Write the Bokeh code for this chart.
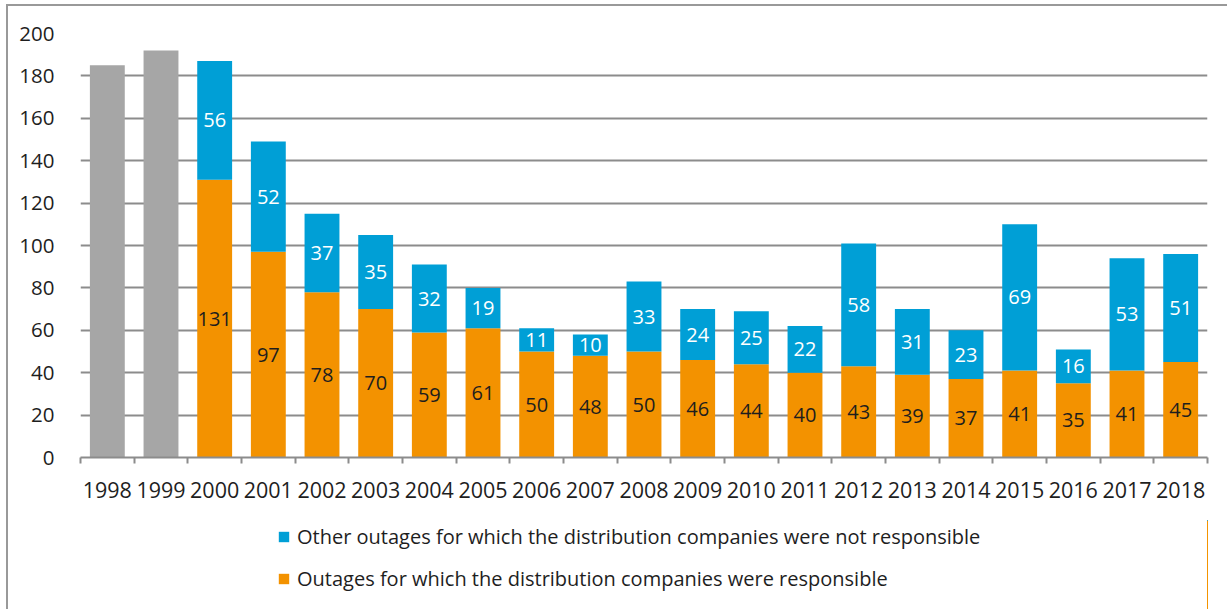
from bokeh.plotting import figure
from bokeh.layouts import column
from bokeh.models import (ColumnDataSource, Range1d, FixedTicker, LabelSet,
                          Legend, LegendItem)
from bokeh.core.properties import value
from bokeh.embed import file_html
from bokeh.resources import INLINE

# Outage minutes per year
years = ["1998", "1999", "2000", "2001", "2002", "2003", "2004", "2005", "2006",
         "2007", "2008", "2009", "2010", "2011", "2012", "2013", "2014", "2015",
         "2016", "2017", "2018"]
early_years = ["1998", "1999"]
early_totals = [185, 192]
split_years = years[2:]
responsible = [131, 97, 78, 70, 59, 61, 50, 48, 50, 46, 44, 40, 43, 39, 37, 41, 35, 41, 45]
not_responsible = [56, 52, 37, 35, 32, 19, 11, 10, 33, 24, 25, 22, 58, 31, 23, 69, 16, 53, 51]
y_ticks = [0, 20, 40, 60, 80, 100, 120, 140, 160, 180, 200]
legend_labels = ["Other outages for which the distribution companies were not responsible",
                 "Outages for which the distribution companies were responsible"]

BLUE = "#009fd6"
ORANGE = "#f39200"
GREY = "#a6a6a6"
GRID = "#8c8c8c"
TEXT = "#1e1e1e"
FONT = "Open Sans"

pos = {y: i + 0.5 for i, y in enumerate(years)}

early = ColumnDataSource(dict(x=[pos[y] for y in early_years], top=early_totals))
split = ColumnDataSource(dict(
    x=[pos[y] for y in split_years],
    resp=responsible,
    other=not_responsible,
    resp_mid=[r / 2 for r in responsible],
    other_mid=[r + o / 2 for r, o in zip(responsible, not_responsible)],
    resp_txt=[str(v) for v in responsible],
    other_txt=[str(v) for v in not_responsible],
))

p = figure(width=1219, height=514, x_range=Range1d(0, len(years)), y_range=Range1d(0, 200),
           output_backend="svg", toolbar_location=None,
           min_border_left=72, min_border_right=20, min_border_top=27, min_border_bottom=63)
p.outline_line_color = None
p.background_fill_color = "white"
p.border_fill_color = "white"

bw = 0.65
p.vbar(x="x", top="top", width=bw, source=early, color=GREY, line_color=None)
p.vbar_stack(["resp", "other"], x="x", width=bw, source=split,
             color=[ORANGE, BLUE], line_color=None)

p.add_layout(LabelSet(x="x", y="resp_mid", text="resp_txt", source=split,
                      text_align="center", text_baseline="middle",
                      text_font=value(FONT), text_font_size="20px", text_color=TEXT))
p.add_layout(LabelSet(x="x", y="other_mid", text="other_txt", source=split,
                      text_align="center", text_baseline="middle",
                      text_font=value(FONT), text_font_size="20px", text_color="white"))

# x axis: year labels at bar centres, tick marks on category boundaries
xa = p.xaxis[0]
xa.ticker = FixedTicker(ticks=[pos[y] for y in years],
                        minor_ticks=list(range(len(years) + 1)))
xa.major_label_overrides = {pos[y]: y for y in years}
xa.major_tick_line_color = None
xa.major_tick_out = 0
xa.major_tick_in = 0
xa.minor_tick_line_color = GRID
xa.minor_tick_line_width = 2
xa.minor_tick_out = 6
xa.minor_tick_in = 0
xa.axis_line_color = GRID
xa.axis_line_width = 2
xa.major_label_standoff = 18
xa.major_label_text_font = FONT
xa.major_label_text_font_size = "21.5px"
xa.major_label_text_color = TEXT

ya = p.yaxis[0]
ya.ticker = FixedTicker(ticks=y_ticks)
ya.axis_line_color = None
ya.major_tick_line_color = None
ya.minor_tick_line_color = None
ya.major_label_standoff = 20
ya.major_label_text_font = FONT
ya.major_label_text_font_size = "20.5px"
ya.major_label_text_color = TEXT

p.xgrid.grid_line_color = None
p.ygrid.ticker = FixedTicker(ticks=y_ticks)
p.ygrid.grid_line_color = GRID
p.ygrid.grid_line_width = 2

# legend strip below the chart; its key renderers share the bar data but
# fall outside this strip's x range, so only the legend is shown
lg = figure(width=1219, height=89, x_range=Range1d(0, 1), y_range=Range1d(0, 1),
            x_axis_type=None, y_axis_type=None, output_backend="svg", toolbar_location=None,
            min_border_left=0, min_border_right=0, min_border_top=0, min_border_bottom=0)
lg.outline_line_color = None
lg.grid.visible = False
key_orange, key_blue = lg.vbar_stack(["resp", "other"], x="x", width=bw, source=split,
                                     color=[ORANGE, BLUE], line_color=None)
legend = Legend(items=[
    LegendItem(label=legend_labels[0], renderers=[key_blue]),
    LegendItem(label=legend_labels[1], renderers=[key_orange]),
], location=(197, 17), orientation="vertical",
    glyph_width=13, glyph_height=13, label_height=20, spacing=15, padding=0, margin=0,
    label_standoff=7, label_text_font=FONT, label_text_font_size="20px",
    label_text_color=TEXT, border_line_color=None, background_fill_alpha=0)
lg.add_layout(legend, "center")

page = column(p, lg, spacing=0)
# chart frame: left and top edges
page.styles = {"margin-left": "6px", "margin-top": "4px",
               "border-left": "2px solid #999999", "border-top": "2px solid #999999"}

open("out.html", "w").write(file_html(page, INLINE))
